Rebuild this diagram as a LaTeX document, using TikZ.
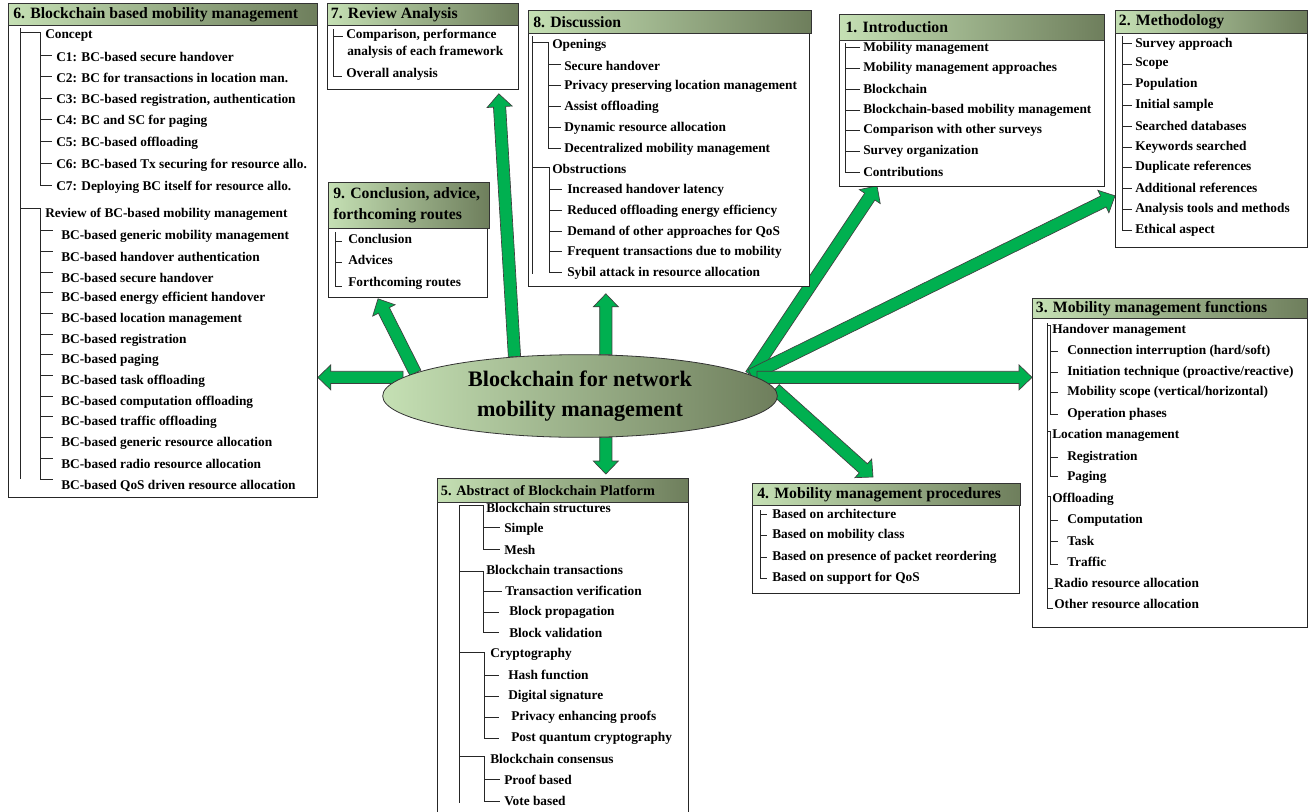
\documentclass[tikz,border=0pt]{standalone}
\usepackage{fontspec}
\setmainfont{Liberation Serif}
\usetikzlibrary{calc,shapes.geometric,backgrounds}

\definecolor{barlight}{RGB}{197,224,180}
\definecolor{bardark}{RGB}{110,126,92}
\definecolor{arrowgreen}{RGB}{0,176,80}

\tikzset{
  titlebar/.style={draw=black!80, line width=0.6pt, left color=barlight, right color=bardark, anchor=north west, inner sep=0pt},
  bodybox/.style={draw=black!85, line width=0.6pt, fill=white, anchor=north west, inner sep=0pt},
  titletext/.style={anchor=west, inner sep=0.75pt, align=left, font=\fontsize{11.8}{15.75}\selectfont\bfseries},
  itemtext/.style={anchor=west, inner sep=0.75pt, font=\fontsize{10}{11}\selectfont\bfseries},
  hub/.style={ellipse, draw=black!80, line width=0.6pt, left color=barlight, right color=bardark, inner sep=0pt, minimum width=296pt, minimum height=62pt, align=center, font=\fontsize{16.6}{22.5}\selectfont\bfseries},
  arrowbody/.style={fill=arrowgreen, draw=black!75, line width=0.5pt, line join=miter},
  treeline/.style={draw=black!85, line width=0.6pt}
}

% block arrow from #1 to #2
\newcommand{\fatarrow}[2]{%
  \coordinate (fa-a) at (#1);
  \coordinate (fa-b) at (#2);
  \coordinate (fa-h) at ($(fa-b)!9.75pt!(fa-a)$);
  \filldraw[arrowbody] ($(fa-a)!4.6pt!90:(fa-b)$) -- ($(fa-h)!4.6pt!-90:(fa-a)$) -- ($(fa-h)!9.4pt!-90:(fa-a)$) -- (fa-b) -- ($(fa-h)!9.4pt!90:(fa-a)$) -- ($(fa-h)!4.6pt!90:(fa-a)$) -- ($(fa-a)!4.6pt!-90:(fa-b)$) -- cycle;
}

\begin{document}
\begin{tikzpicture}[x=0.75pt,y=0.75pt,yscale=-1,xscale=1]
\useasboundingbox (0,0) rectangle (1309,811);

%Shape: Boxes 6
\node[bodybox, minimum width=231.75pt, minimum height=354pt] (b6) at (8,25) {};
\node[titlebar, minimum width=231.75pt, minimum height=16.5pt] (t6) at (8,3) {};
%Shape: Boxes 7
\node[bodybox, minimum width=143.25pt, minimum height=48pt] (b7) at (327,25) {};
\node[titlebar, minimum width=143.25pt, minimum height=16.5pt] (t7) at (327,3) {};
%Shape: Boxes 8
\node[bodybox, minimum width=210.75pt, minimum height=189.75pt] (b8) at (528,33) {};
\node[titlebar, minimum width=212.25pt, minimum height=17.25pt] (t8) at (528,10) {};
%Shape: Boxes 9
\node[bodybox, minimum width=119.25pt, minimum height=51.75pt] (b9) at (328,228) {};
\node[titlebar, minimum width=120.75pt, minimum height=34.5pt] (t9) at (328,182) {};
%Shape: Boxes 1
\node[bodybox, minimum width=198.75pt, minimum height=109.5pt] (b1) at (839,40) {};
\node[titlebar, minimum width=198.75pt, minimum height=19.5pt] (t1) at (839,14) {};
%Shape: Boxes 2
\node[bodybox, minimum width=144pt, minimum height=160.5pt] (b2) at (1115,33) {};
\node[titlebar, minimum width=144pt, minimum height=17.25pt] (t2) at (1115,10) {};
%Shape: Boxes 3
\node[bodybox, minimum width=206.25pt, minimum height=231.75pt] (b3) at (1032,318) {};
\node[titlebar, minimum width=206.25pt, minimum height=15pt] (t3) at (1032,298) {};
%Shape: Boxes 4
\node[bodybox, minimum width=200.25pt, minimum height=66pt] (b4) at (752,505) {};
\node[titlebar, minimum width=201pt, minimum height=16.5pt] (t4) at (752,483) {};
%Shape: Boxes 5
\node[bodybox, minimum width=188.25pt, minimum height=234pt] (b5) at (437,502) {};
\node[titlebar, minimum width=188.25pt, minimum height=18pt] (t5) at (437,478) {};

% Text Node
\node[titletext] (h6) at ([xshift=3pt]t6.west) {6. Blockchain based mobility management};
\node[titletext] (h7) at ([xshift=2pt]t7.west) {7. Review Analysis};
\node[titletext] (h8) at ([xshift=3pt]t8.west) {8. Discussion};
\node[titletext] (h9) at ([xshift=3pt]t9.west) {9. Conclusion, advice,\\forthcoming routes};
\node[titletext] (h1) at ([xshift=4pt]t1.west) {1. Introduction};
\node[titletext] (h2) at ([xshift=2pt]t2.west) {2. Methodology};
\node[titletext] (h3) at ([xshift=2pt]t3.west) {3. Mobility management functions};
\node[titletext] (h4) at ([xshift=3pt]t4.west) {4. Mobility management procedures};
\node[titletext, font=\fontsize{10.7}{14}\selectfont\bfseries] (h5) at ([xshift=2pt]t5.west) {5. Abstract of Blockchain Platform};

%Straight Lines: tree of box 6
\draw[treeline] (20,28) -- (20,479) (20,32) -- (40,32) -- (40,185) -- (52,185)
  (40,55) -- (52,55) (40,76) -- (52,76) (40,98) -- (52,98) (40,119) -- (52,119) (40,141) -- (52,141) (40,163) -- (52,163)
  (20,208) -- (40,208) -- (40,479) -- (53,479)
  (40,230) -- (53,230) (40,251) -- (53,251) (40,272) -- (53,272) (40,292) -- (53,292) (40,313) -- (53,313) (40,334) -- (53,334)
  (40,354) -- (53,354) (40,375) -- (53,375) (40,396) -- (53,396) (40,416) -- (53,416) (40,437) -- (53,437) (40,458) -- (53,458);
% Text Node
\node[itemtext] (s6a) at (44,36) {Concept};
\node[itemtext] (s6c1) at (55,57) {C1: BC-based secure handover};
\node[itemtext] (s6c2) at (55,78) {C2: BC for transactions in location man.};
\node[itemtext] (s6c3) at (55,100) {C3: BC-based registration, authentication};
\node[itemtext] (s6c4) at (55,121) {C4: BC and SC for paging};
\node[itemtext] (s6c5) at (55,143) {C5: BC-based offloading};
\node[itemtext] (s6c6) at (55,165) {C6: BC-based Tx securing for resource allo.};
\node[itemtext] (s6c7) at (55,187) {C7: Deploying BC itself for resource allo.};
\node[itemtext] (s6b) at (44,214) {Review of BC-based mobility management};
\node[itemtext] (s6r1) at (60,236) {BC-based generic mobility management};
\node[itemtext] (s6r2) at (60,257) {BC-based handover authentication};
\node[itemtext] (s6r3) at (60,278) {BC-based secure handover};
\node[itemtext] (s6r4) at (60,298) {BC-based energy efficient handover};
\node[itemtext] (s6r5) at (60,319) {BC-based location management};
\node[itemtext] (s6r6) at (60,340) {BC-based registration};
\node[itemtext] (s6r7) at (60,360) {BC-based paging};
\node[itemtext] (s6r8) at (60,381) {BC-based task offloading};
\node[itemtext] (s6r9) at (60,402) {BC-based computation offloading};
\node[itemtext] (s6r10) at (60,422) {BC-based traffic offloading};
\node[itemtext] (s6r11) at (60,443) {BC-based generic resource allocation};
\node[itemtext] (s6r12) at (60,464) {BC-based radio resource allocation};
\node[itemtext] (s6r13) at (60,486) {BC-based QoS driven resource allocation};

%Straight Lines: tree of box 7
\draw[treeline] (333,29) -- (333,76) -- (342,76) (333,36) -- (343,36);
% Text Node
\node[itemtext] (s7a) at (345,35) {Comparison, performance};
\node[itemtext] (s7b) at (346,52) {analysis of each framework};
\node[itemtext] (s7c) at (345,74) {Overall analysis};

%Straight Lines: tree of box 8
\draw[treeline] (532,36) -- (532,274) (532,42) -- (548,42) -- (548,148) -- (561,148)
  (548,64) -- (561,64) (548,85) -- (561,85) (548,106) -- (561,106) (548,127) -- (561,127)
  (532,167) -- (549,167) -- (549,272) -- (562,272)
  (549,189) -- (562,189) (549,210) -- (562,210) (549,231) -- (562,231) (549,251) -- (562,251);
% Text Node
\node[itemtext] (s8a) at (551,45) {Openings};
\node[itemtext] (s8a1) at (563,66) {Secure handover};
\node[itemtext] (s8a2) at (563,86) {Privacy preserving location management};
\node[itemtext] (s8a3) at (563,107) {Assist offloading};
\node[itemtext] (s8a4) at (563,128) {Dynamic resource allocation};
\node[itemtext] (s8a5) at (563,149) {Decentralized mobility management};
\node[itemtext] (s8b) at (551,169) {Obstructions};
\node[itemtext] (s8b1) at (566,190) {Increased handover latency};
\node[itemtext] (s8b2) at (566,211) {Reduced offloading energy efficiency};
\node[itemtext] (s8b3) at (566,232) {Demand of other approaches for QoS};
\node[itemtext] (s8b4) at (566,252) {Frequent transactions due to mobility};
\node[itemtext] (s8b5) at (566,273) {Sybil attack in resource allocation};

%Straight Lines: tree of box 9
\draw[treeline] (335,232) -- (335,286) -- (342,286) (335,241) -- (342,241) (335,262) -- (342,262);
% Text Node
\node[itemtext] (s9a) at (347,239) {Conclusion};
\node[itemtext] (s9b) at (347,260) {Advices};
\node[itemtext] (s9c) at (347,283) {Forthcoming routes};

%Straight Lines: tree of box 1
\draw[treeline] (845,43) -- (845,172) -- (860,172) (845,47) -- (860,47) (845,68) -- (860,68) (845,89) -- (860,89)
  (845,110) -- (860,110) (845,130) -- (860,130) (845,151) -- (860,151);
% Text Node
\node[itemtext] (s1a) at (862,48) {Mobility management};
\node[itemtext] (s1b) at (862,68) {Mobility management approaches};
\node[itemtext] (s1c) at (862,89) {Blockchain};
\node[itemtext] (s1d) at (862,110) {Blockchain-based mobility management};
\node[itemtext] (s1e) at (862,130) {Comparison with other surveys};
\node[itemtext] (s1f) at (862,151) {Survey organization};
\node[itemtext] (s1g) at (862,172) {Contributions};

%Straight Lines: tree of box 2
\draw[treeline] (1122,36) -- (1122,230) -- (1132,230) (1122,43) -- (1132,43) (1122,64) -- (1132,64) (1122,84) -- (1132,84)
  (1122,105) -- (1132,105) (1122,126) -- (1132,126) (1122,147) -- (1132,147) (1122,167) -- (1132,167)
  (1122,188) -- (1132,188) (1122,209) -- (1132,209);
% Text Node
\node[itemtext] (s2a) at (1134,44) {Survey approach};
\node[itemtext] (s2b) at (1134,64) {Scope};
\node[itemtext] (s2c) at (1134,84) {Population};
\node[itemtext] (s2d) at (1134,105) {Initial sample};
\node[itemtext] (s2e) at (1134,126) {Searched databases};
\node[itemtext] (s2f) at (1134,147) {Keywords searched};
\node[itemtext] (s2g) at (1134,167) {Duplicate references};
\node[itemtext] (s2h) at (1134,188) {Additional references};
\node[itemtext] (s2i) at (1134,209) {Analysis tools and methods};
\node[itemtext] (s2j) at (1134,230) {Ethical aspect};

%Straight Lines: tree of box 3
\draw[treeline] (1047,323) -- (1047,608) -- (1053,608) (1047,588) -- (1053,588)
  (1047,325) -- (1050,325) -- (1050,414) -- (1058,414) (1050,351) -- (1058,351) (1050,372) -- (1058,372) (1050,392) -- (1058,392)
  (1047,431) -- (1050,431) -- (1050,476) -- (1058,476) (1050,457) -- (1058,457)
  (1047,496) -- (1050,496) -- (1050,564) -- (1058,564) (1050,520) -- (1058,520) (1050,541) -- (1058,541);
% Text Node
\node[itemtext] (s3a) at (1051,330) {Handover management};
\node[itemtext] (s3a1) at (1066,351) {Connection interruption (hard/soft)};
\node[itemtext] (s3a2) at (1066,372) {Initiation technique (proactive/reactive)};
\node[itemtext] (s3a3) at (1066,392) {Mobility scope (vertical/horizontal)};
\node[itemtext] (s3a4) at (1066,414) {Operation phases};
\node[itemtext] (s3b) at (1051,435) {Location management};
\node[itemtext] (s3b1) at (1066,457) {Registration};
\node[itemtext] (s3b2) at (1066,477) {Paging};
\node[itemtext] (s3c) at (1051,499) {Offloading};
\node[itemtext] (s3c1) at (1066,520) {Computation};
\node[itemtext] (s3c2) at (1066,541) {Task};
\node[itemtext] (s3c3) at (1066,562) {Traffic};
\node[itemtext] (s3d) at (1053,583) {Radio resource allocation};
\node[itemtext] (s3e) at (1053,604) {Other resource allocation};

%Straight Lines: tree of box 4
\draw[treeline] (760,510) -- (760,578) -- (767,578) (760,514) -- (767,514) (760,535) -- (767,535) (760,557) -- (767,557);
% Text Node
\node[itemtext] (s4a) at (771,514) {Based on architecture};
\node[itemtext] (s4b) at (771,535) {Based on mobility class};
\node[itemtext] (s4c) at (771,557) {Based on presence of packet reordering};
\node[itemtext] (s4d) at (771,578) {Based on support for QoS};

%Straight Lines: tree of box 5
\draw[treeline] (459,505) -- (459,803)
  (459,505) -- (483,505) -- (483,549) -- (500,549) (483,527) -- (500,527)
  (459,571) -- (483,571) -- (483,632) -- (499,632) (483,591) -- (502,591) (483,612) -- (499,612)
  (459,652) -- (484,652) -- (484,738) -- (499,738) (484,675) -- (499,675) (484,696) -- (499,696) (484,717) -- (499,717)
  (459,756) -- (484,756) -- (484,801) -- (500,801) (484,779) -- (500,779);
% Text Node
\node[itemtext] (s5a) at (485,508) {Blockchain structures};
\node[itemtext] (s5a1) at (503,529) {Simple};
\node[itemtext] (s5a2) at (503,550) {Mesh};
\node[itemtext] (s5b) at (485,570) {Blockchain transactions};
\node[itemtext] (s5b1) at (504,591) {Transaction verification};
\node[itemtext] (s5b2) at (508,612) {Block propagation};
\node[itemtext] (s5b3) at (508,633) {Block validation};
\node[itemtext] (s5c) at (489,654) {Cryptography};
\node[itemtext] (s5c1) at (507,675) {Hash function};
\node[itemtext] (s5c2) at (507,696) {Digital signature};
\node[itemtext] (s5c3) at (510,717) {Privacy enhancing proofs};
\node[itemtext] (s5c4) at (510,738) {Post quantum cryptography};
\node[itemtext] (s5d) at (489,759) {Blockchain consensus};
\node[itemtext] (s5d1) at (503,780) {Proof based};
\node[itemtext] (s5d2) at (503,801) {Vote based};

%Shape: Ellipse
\node[hub] (e) at (580,396) {Blockchain for network\\mobility management};

%Block Arrows
\begin{scope}[on background layer]
\fatarrow{e.174}{e.174 -| b6.east}
\fatarrow{e.172}{$(b9.south west)+(50,1)$}
\fatarrow{e.149}{$(b7.south east)+(-20,4)$}
\fatarrow{e.58}{$(e.58 |- b8.south)+(0,7)$}
\fatarrow{e.-58}{$(e.-58 |- t5.north)+(0,-4)$}
\fatarrow{e.7}{$(b1.south west)+(38,-1)$}
\fatarrow{e.7}{$(b2.south west)+(0,-52)$}
\fatarrow{e.6}{e.6 -| b3.west}
\fatarrow{e.2}{$(t4.north west)+(121,-6)$}
\end{scope}

\end{tikzpicture}
\end{document}
